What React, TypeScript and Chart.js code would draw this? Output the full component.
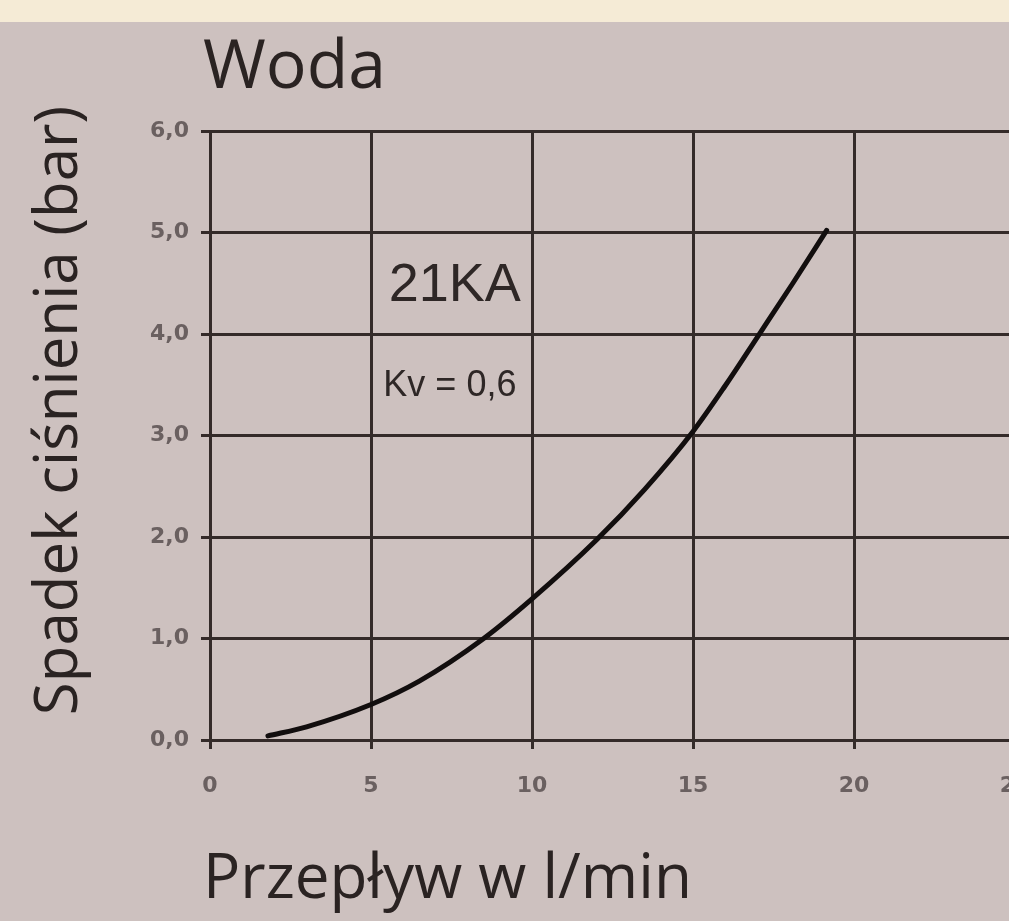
import React, { useEffect, useRef } from 'react';
import { Chart, registerables } from 'chart.js';

Chart.register(...registerables);

// ---- data ----
const flowLpm = [1.8, 3, 5, 6.5, 8.5, 10, 12, 13.5, 15, 16, 17, 18.1, 19.15];
const pressureBar = [0.04, 0.13, 0.35, 0.58, 1.0, 1.39, 1.97, 2.47, 3.04, 3.49, 3.97, 4.5, 5.02];
const xTickLabels = ['0', '5', '10', '15', '20', '25'];
const yTickLabels = ['0,0', '1,0', '2,0', '3,0', '4,0', '5,0', '6,0'];
const chartTitle = 'Woda';
const xAxisTitle = 'Przepływ w l/min';
const yAxisTitle = 'Spadek ciśnienia (bar)';
const seriesName = '21KA';
const kvLabel = 'Kv = 0,6';

const GRID = '#342b29';
const TICK = '#6a6060';
const TEXT = '#2a2322';

const textPlugin = {
  id: 'textPlugin',
  afterDraw(chart: any) {
    const { ctx, chartArea, scales } = chart;
    ctx.save();
    ctx.fillStyle = TEXT;
    // main title
    ctx.font = '400 68px "Open Sans"';
    ctx.textAlign = 'left';
    ctx.textBaseline = 'alphabetic';
    ctx.fillText(chartTitle, chartArea.left - 7, chartArea.top - 43);
    // x axis title
    ctx.font = '400 62px "Open Sans"';
    ctx.fillText(xAxisTitle, chartArea.left - 7, chartArea.bottom + 158);
    // y axis title
    ctx.save();
    ctx.translate(77, (chartArea.top + chartArea.bottom) / 2 - 25);
    ctx.rotate(-Math.PI / 2);
    ctx.textAlign = 'center';
    ctx.font = '400 60px "Open Sans"';
    ctx.fillText(yAxisTitle, 0, 0);
    ctx.restore();
    // annotations
    const x = scales.x;
    const y = scales.y;
    ctx.textAlign = 'center';
    ctx.textBaseline = 'middle';
    ctx.fillStyle = '#2e2726';
    ctx.font = '400 54px "Liberation Sans"';
    ctx.fillText(seriesName, x.getPixelForValue(7.6), y.getPixelForValue(4.47));
    ctx.font = '400 36px "Liberation Sans"';
    ctx.fillText(kvLabel, x.getPixelForValue(7.45), y.getPixelForValue(3.49));
    ctx.restore();
  },
};

export default function App() {
  const ref = useRef<HTMLCanvasElement | null>(null);
  useEffect(() => {
    if (!ref.current) return;
    const chart = new Chart(ref.current, {
      type: 'line',
      data: {
        datasets: [
          {
            label: seriesName,
            data: flowLpm.map((v, i) => ({ x: v, y: pressureBar[i] })),
            borderColor: '#120e0e',
            borderWidth: 5,
            borderCapStyle: 'round',
            pointRadius: 0,
            cubicInterpolationMode: 'monotone',
            fill: false,
          },
        ],
      },
      options: {
        responsive: false,
        animation: false,
        layout: { padding: { left: 0, right: 45, top: 131, bottom: 0 } },
        plugins: { legend: { display: false }, title: { display: false }, tooltip: { enabled: false } },
        scales: {
          x: {
            type: 'linear',
            min: 0,
            max: 25,
            afterFit: (s: any) => { s.height = 181; },
            ticks: {
              stepSize: 5,
              padding: 24,
              color: TICK,
              font: { family: '"DejaVu Sans"', size: 22, weight: 'bold' },
              callback: (_v: any, i: number) => xTickLabels[i],
              maxRotation: 0,
            },
            grid: { color: GRID, lineWidth: 3, tickLength: 9, drawTicks: true },
            border: { display: true, color: GRID, width: 3 },
          },
          y: {
            type: 'linear',
            min: 0,
            max: 6,
            afterFit: (s: any) => { s.width = 210; },
            ticks: {
              stepSize: 1,
              padding: 12,
              color: TICK,
              font: { family: '"DejaVu Sans"', size: 22, weight: 'bold' },
              callback: (_v: any, i: number) => yTickLabels[i],
            },
            grid: { color: GRID, lineWidth: 3, tickLength: 9, drawTicks: true },
            border: { display: true, color: GRID, width: 3 },
          },
        },
      },
      plugins: [textPlugin],
    } as any);
    return () => chart.destroy();
  }, []);

  return (
    <div
      style={{
        position: 'fixed',
        left: 0,
        top: 0,
        width: 1009,
        height: 921,
        overflow: 'hidden',
        background: '#cdc1bf',
      }}
    >
      <div style={{ position: 'absolute', left: 0, top: 0, width: 1009, height: 22, background: '#f5ebd6' }} />
      <canvas ref={ref} width={1060} height={921} style={{ position: 'absolute', left: 0, top: 0 }} />
    </div>
  );
}
